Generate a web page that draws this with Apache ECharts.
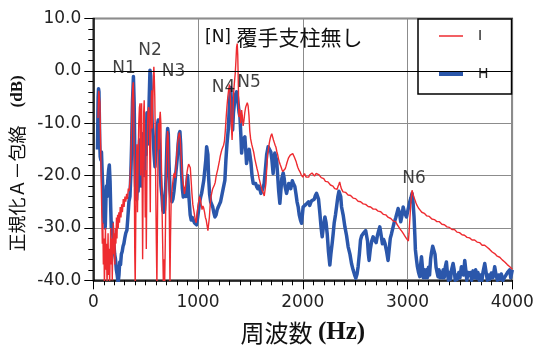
<!DOCTYPE html>
<html>
<head>
<meta charset="utf-8">
<script src="https://cdn.jsdelivr.net/npm/echarts@6/dist/echarts.min.js"></script>
<style>html,body{margin:0;padding:0;background:#fff;}#c{width:536px;height:347px;}</style>
</head>
<body>
<div id="c"></div>
<script>
// ---- Series I (red) ----
const freqI = [45,52,58,63,68,74,80,86,91,96,101,106,111,116,121,126,131,136,141,146,151,156,161,166,171,176,181,186,191,196,201,206,211,216,221,226,232,238,244,250,257,264,271,278,286,294,302,310,318,326,334,342,350,357,364,371,377,382,386,391,396,400,405,410,416,422,428,434,440,446,451,456,461,466,471,476,481,486,491,496,501,506,511,516,522,528,534,539,544,549,554,558,563,568,573,578,582,587,592,597,602,607,612,617,622,628,634,639,645,651,657,663,669,675,681,687,692,697,703,709,715,721,727,732,737,743,750,758,766,774,782,790,798,806,814,822,830,838,846,854,862,870,878,886,894,902,910,918,926,934,942,950,958,966,974,982,990,998,1006,1014,1022,1030,1038,1046,1054,1062,1070,1078,1086,1094,1100,1108,1116,1124,1132,1140,1148,1156,1164,1172,1180,1188,1196,1204,1212,1220,1228,1236,1244,1252,1260,1268,1276,1284,1292,1300,1305,1311,1318,1325,1332,1340,1348,1355,1362,1368,1374,1379,1384,1390,1396,1402,1408,1416,1422,1430,1438,1446,1454,1462,1470,1478,1486,1494,1502,1512,1522,1532,1542,1552,1562,1572,1582,1592,1602,1612,1622,1632,1640,1648,1656,1664,1672,1680,1688,1696,1704,1712,1720,1728,1736,1744,1752,1760,1768,1776,1784,1792,1800,1808,1816,1824,1832,1840,1848,1856,1864,1872,1880,1888,1896,1904,1912,1920,1928,1936,1944,1952,1960,1968,1976,1984,1992,2000,2008,2016,2024,2032,2040,2048,2056,2064,2072,2080,2088,2096,2104,2112,2120,2128,2136,2144,2152,2160,2168,2176,2184,2192,2200,2208,2216,2224,2232,2240,2248,2256,2264,2272,2280,2288,2296,2304,2312,2320,2328,2336,2344,2352,2360,2368,2376,2384,2392,2400,2408,2416,2424,2432,2440,2448,2456,2464,2472,2480,2488,2496,2504,2512,2520,2528,2536,2544,2552,2560,2568,2576,2584,2592,2600,2608,2616,2624,2632,2640,2648,2656,2664,2672,2680,2688,2696,2704,2712,2720,2728,2736,2744,2752,2760,2768,2776,2784,2792,2800,2808,2816,2824,2832,2840,2848,2856,2864,2872,2880,2888,2896,2904,2912,2920,2928,2936,2944,2952,2960,2968,2976,2984,2992,3000,3008,3014,3020,3026,3032,3038,3043,3048,3054,3060,3066,3072,3080,3088,3096,3104,3112,3120,3128,3136,3144,3152,3160,3168,3176,3184,3192,3200,3208,3216,3224,3232,3240,3248,3256,3264,3272,3280,3288,3296,3304,3312,3320,3328,3336,3344,3352,3360,3368,3376,3384,3392,3400,3408,3416,3424,3432,3440,3448,3456,3464,3472,3480,3488,3496,3504,3512,3520,3528,3536,3544,3552,3560,3568,3576,3584,3592,3600,3608,3616,3624,3632,3640,3648,3656,3664,3672,3680,3688,3696,3704,3712,3720,3728,3736,3744,3752,3760,3768,3776,3784,3792,3800,3808,3816,3824,3832,3840,3848,3856,3864,3872,3880,3888,3896,3904,3912,3920,3928,3936,3944,3952,3960,3968,3976,3984,3992,4000];
const levelI = [-9,-3.8,-3.9,-6,-12,-19,-26,-33,-29,-37,-32,-41,-35,-30,-38,-33,-41,-36,-31,-39,-34,-41,-35,-30,-37,-32,-40,-34,-29,-35,-31,-37,-30,-33,-28,-32,-27.5,-30,-27,-29,-26,-28,-25.5,-27,-24.5,-26,-24,-25,-23.5,-24.5,-22.5,-23,-21,-18,-12,-6,-3,-2.2,-6,-18,-35,-41,-30,-19,-14,-27,-17,-10,-7,-6.2,-20,-12,-6.2,-20,-36,-20,-8,-5.6,-14,-28,-19,-34,-22,-12,-8,-6.9,-8,-16,-27,-12,-5,-3.7,-11,-6,-2,0.8,-1,-5,-13,-24,-33,-41,-30,-18,-10,-15,-9,-7.8,-10,-19,-27,-34,-41,-36,-41,-33,-25,-19,-14,-11.5,-12.5,-18,-30,-41,-32,-25,-23,-21.5,-20,-19.5,-20.5,-18,-15.5,-13.5,-12.5,-11.8,-13,-16,-19,-21,-22,-23.5,-22.5,-21,-19.5,-18.5,-17.8,-17.6,-18.5,-21,-23.5,-25.5,-26.5,-27.5,-28.5,-29,-27.5,-26,-25,-24,-24.5,-25.5,-26.5,-25.8,-26.2,-27,-28,-28.5,-29.5,-30.5,-30.7,-28,-25.5,-24,-23.2,-22.5,-22.2,-21.8,-21.3,-20.2,-19.5,-18.8,-18,-17.2,-16.3,-15.6,-15,-14.6,-14.2,-13.4,-11.5,-9,-6.8,-5,-3.6,-2.6,-2.4,-6,-10.5,-13.2,-9,-4,-2,-0.5,2,4.5,5.2,3,-2,-8.8,-7.3,-8.5,-10,-7.5,-8.5,-10.5,-9.5,-8,-7,-6.5,-6.1,-6.7,-8.5,-11.5,-13,-14,-14.8,-15.6,-16.8,-17.7,-18.6,-19.4,-20.5,-21.3,-22.1,-22.8,-23.3,-23.9,-23.6,-21.5,-18.5,-16,-15,-13.8,-13,-12.4,-12,-12.6,-13.2,-13.7,-14.2,-14.6,-15.4,-16,-16.8,-17.4,-17.9,-18.3,-18.8,-19.2,-19.5,-19.2,-18.7,-18.2,-17.6,-17.1,-16.6,-16.3,-16.1,-16.4,-16.2,-15.8,-16,-16.5,-16.7,-17.3,-17.9,-18.4,-18.8,-19,-19.4,-19.8,-20.1,-20.3,-20,-19.6,-19.9,-20.3,-20.1,-20.6,-20.3,-19.9,-20.2,-19.7,-19.5,-19.2,-19.6,-20.1,-19.9,-19.6,-19.3,-19.5,-19.8,-19.5,-20.1,-20.4,-20.3,-20.7,-20.6,-20.9,-21.1,-20.9,-21.3,-21.2,-21.5,-21.4,-21.8,-21.7,-22.1,-22,-22.3,-22.5,-22.7,-22.5,-22.6,-22.1,-21.7,-21.2,-21.9,-22.5,-22.8,-23.1,-23,-23.3,-23.2,-23.5,-23.4,-23.7,-23.6,-23.9,-23.8,-24.1,-24,-24.3,-24.2,-24.5,-24.4,-24.7,-24.6,-24.9,-24.8,-25.1,-25,-25.2,-25.1,-25.4,-25.3,-25.6,-25.5,-25.7,-25.6,-25.9,-25.8,-26.1,-26,-26.2,-26.1,-26.4,-26.3,-26.5,-26.4,-26.7,-26.6,-26.8,-26.7,-27,-26.9,-27.2,-27.1,-27.4,-27.3,-27.6,-27.5,-27.8,-27.7,-28,-28,-28.3,-28.2,-28.5,-28.4,-28.7,-28.6,-28.9,-28.8,-29.2,-29.3,-29.7,-29.8,-30.2,-30.3,-30.6,-30.8,-31.1,-31.3,-31.6,-31.8,-32.1,-32.2,-32.5,-31,-29,-27,-25.2,-23.6,-22.8,-23.2,-23.7,-24,-24.4,-24.7,-25.2,-25.6,-25.8,-26.2,-26.3,-26.6,-26.7,-27,-27,-27.3,-27.2,-27.5,-27.5,-27.7,-27.6,-27.9,-27.8,-28.1,-28,-28.3,-28.2,-28.5,-28.4,-28.6,-28.5,-28.8,-28.7,-28.9,-28.8,-29.1,-29,-29.3,-29.2,-29.4,-29.4,-29.6,-29.5,-29.8,-29.7,-30,-29.9,-30.1,-30,-30.3,-30.2,-30.4,-30.3,-30.6,-30.5,-30.8,-30.7,-31,-30.9,-31.1,-31,-31.3,-31.2,-31.4,-31.4,-31.6,-31.5,-31.8,-31.7,-31.9,-31.9,-32.1,-32,-32.3,-32.2,-32.4,-32.3,-32.6,-32.5,-32.7,-32.7,-32.9,-32.8,-33.1,-33,-33.3,-33.2,-33.4,-33.3,-33.6,-33.5,-33.7,-33.7,-34,-34.1,-34.3,-34.3,-34.6,-34.6,-34.9,-34.9,-35.2,-35.2,-35.4,-35.4,-35.6,-35.6,-35.8,-35.9,-36.1,-36.2,-36.4,-36.5,-36.7,-36.8,-37,-37.1,-37.3,-37.4,-37.6,-37.7,-37.9];

// ---- Series H (blue) ----
const freqH = [40,46,50,54,58,62,66,72,78,84,90,96,102,108,114,120,126,132,138,146,153,160,166,172,180,188,196,204,212,220,228,237,245,252,260,268,276,284,292,300,310,321,330,340,350,358,366,374,383,390,396,404,414,420,428,436,442,448,456,462,470,476,484,490,498,504,512,518,526,534,541,548,555,562,570,580,589,598,606,614,620,628,636,646,656,664,672,680,688,696,704,710,716,722,732,740,750,760,770,780,790,800,810,820,827,834,842,850,859,868,876,885,893,900,908,916,925,935,945,955,965,976,986,996,1006,1016,1026,1034,1044,1054,1064,1074,1082,1088,1094,1100,1110,1120,1130,1140,1150,1161,1172,1183,1193,1204,1215,1225,1240,1256,1266,1276,1288,1296,1304,1311,1318,1324,1330,1338,1348,1358,1368,1376,1384,1392,1400,1408,1416,1424,1432,1440,1447,1455,1463,1472,1480,1488,1495,1505,1515,1527,1540,1550,1559,1570,1580,1590,1600,1606,1618,1631,1642,1655,1669,1680,1685,1695,1705,1717,1725,1733,1742,1750,1760,1770,1781,1790,1800,1813,1822,1830,1845,1855,1866,1877,1885,1893,1900,1910,1924,1935,1945,1956,1966,1978,1988,1996,2003,2012,2020,2030,2036,2045,2055,2066,2075,2085,2099,2110,2120,2131,2140,2150,2163,2175,2185,2195,2211,2222,2233,2245,2258,2268,2280,2290,2300,2312,2322,2335,2345,2354,2362,2370,2385,2402,2418,2433,2450,2465,2480,2495,2506,2518,2528,2540,2551,2562,2576,2590,2600,2608,2618,2626,2633,2645,2658,2671,2685,2700,2712,2725,2735,2745,2760,2772,2785,2800,2814,2825,2835,2847,2860,2872,2888,2910,2922,2935,2948,2958,2970,2990,3005,3021,3033,3043,3052,3062,3070,3075,3085,3094,3105,3117,3125,3133,3142,3150,3160,3170,3180,3190,3200,3210,3220,3228,3240,3253,3262,3272,3282,3291,3300,3310,3320,3330,3340,3350,3360,3371,3380,3390,3400,3410,3420,3435,3445,3455,3465,3475,3490,3500,3514,3525,3535,3546,3556,3566,3578,3590,3600,3612,3625,3640,3650,3660,3672,3685,3698,3710,3720,3737,3750,3762,3775,3785,3800,3815,3832,3845,3858,3870,3882,3895,3910,3925,3940,3955,3975,3985,3995,4000];
const levelH = [-15,-5,-3.4,-4,-9,-14,-16.4,-17,-15.5,-19,-22,-26,-29,-27,-30,-25,-22,-24,-21,-19,-18,-21,-26,-30,-29,-32,-33,-35,-36,-38,-39,-40.5,-39,-36.5,-37,-35,-34.5,-33.5,-33,-32,-31,-30.4,-28,-25,-24,-20,-14,-6,-1.1,-6,-15,-22,-24.6,-22,-23,-16,-13.2,-18,-22,-20,-12,-18,-13,-20,-10,-16,-8,-14,-12,-5,0.1,-1,-5,-10,-12,-16,-18.3,-15,-12,-10,-9.4,-13,-18,-22,-24,-26.6,-27,-26.6,-24,-19,-13,-11,-12,-17,-22.8,-24,-25,-24.5,-23,-21,-19,-17,-14,-12,-11.6,-14,-19,-22.5,-24.1,-23,-22.5,-24,-22,-20,-22.5,-25,-27.5,-28.5,-28,-28.5,-29,-28.8,-29.4,-28,-26.5,-25,-24,-23.4,-23.5,-21,-19,-17,-14.5,-14.2,-16,-20,-23.5,-25,-25.3,-26,-27,-27.9,-27.5,-26.5,-26,-25.5,-25,-24.7,-22.5,-20.9,-17,-14,-11.3,-8,-5,-3.2,-5.5,-9,-11.3,-8,-6,-4.5,-4,-5,-6.5,-8,-8.8,-12,-15.7,-14,-13,-12.8,-12.6,-15,-17.7,-16.5,-15.5,-15,-15.1,-17.5,-20,-21.5,-21.8,-21.5,-22.1,-22.5,-22,-22.6,-23.4,-23.4,-22.5,-21.5,-19,-16,-14.5,-14.8,-14.5,-15.5,-17,-19.6,-17,-15.7,-16.5,-17,-20,-23,-25.3,-23,-20.5,-19.5,-20.5,-22,-23.4,-22.5,-21.5,-21.5,-22.5,-22.5,-21,-21.5,-22.1,-23.5,-25,-26,-27.5,-28.5,-29.1,-27.5,-26,-25.8,-26.3,-25.5,-25.3,-25.8,-25,-25.7,-25.2,-24.8,-25,-24.5,-23.8,-23.4,-23.2,-24.5,-27.2,-30,-31.7,-30,-27.9,-29,-31.1,-34.5,-37.1,-35,-33,-31.1,-29,-27.5,-26,-24,-23,-22.8,-24,-26,-27.5,-29.8,-31.5,-33.6,-35,-36.8,-38,-39,-39.6,-38.8,-37.4,-35,-32.3,-31.5,-31.1,-30.8,-30.5,-30.2,-32.5,-35,-36.2,-34,-32.5,-31.7,-32.3,-32.8,-31.5,-30.5,-29.8,-31,-33,-32.2,-33,-34.5,-36.2,-34,-32,-31.1,-30,-29,-28,-26.3,-27,-28.8,-27.5,-26,-27,-27.9,-26.5,-25,-24.2,-23.4,-25,-27.9,-31.5,-34.2,-36,-37.4,-38.5,-39.3,-37,-35.5,-37.5,-39.5,-38,-39.5,-38,-39.5,-37.5,-39,-36,-34.8,-33.5,-33.3,-35,-37.5,-38.5,-39.3,-38,-39.5,-38.5,-39.5,-38,-39.5,-37.5,-36.5,-38.5,-40,-38.5,-39.8,-38,-36.8,-38,-40,-39,-39.8,-38.5,-39.5,-37.4,-38,-39,-36.2,-38,-40,-38.5,-39,-38.5,-40,-38.2,-39.5,-38,-39.6,-38.5,-40,-39,-40,-38.5,-36.8,-38.5,-40,-39,-39.8,-38.6,-39.5,-37.4,-39,-40,-39,-39.8,-38.8,-40,-39.5,-39.8,-38.5,-38,-39.5,-38.5,-38];

// ---- Annotations ----
const noteNames = ['N1','N2','N3','N4','N5','N6'];
const noteFreq = [293, 541, 765, 1243, 1486, 3061];
const noteDb = [0.4, 3.8, -0.2, -3.1, -2.2, -20.5];

// ---- Axis ticks ----
const xTicks = {min: 0, max: 4000, step: 1000};
const yTicks = {min: -40, max: 10, step: 10};

const dataI = freqI.map((f, i) => [f, levelI[i]]);
const dataH = freqH.map((f, i) => [f, levelH[i]]);
const notes = noteNames.map((n, i) => ({name: n, value: [noteFreq[i], noteDb[i]]}));

const chart = echarts.init(document.getElementById('c'), null, {renderer: 'canvas'});
const sans = 'DejaVu Sans';
const cjk = '"Noto Sans CJK JP"';
chart.setOption({
  animation: false,
  backgroundColor: '#fff',
  grid: {left: 93.3, right: 23.7, top: 18.5, bottom: 66.7, show: true, borderColor: '#000', borderWidth: 1.5,
         backgroundColor: 'transparent', containLabel: false, outerBoundsMode: 'none'},
  title: {
    text: '{a|[N] }{b|覆手支柱無し}',
    left: 200, top: 22,
    textStyle: {fontWeight: 'normal', rich: {
      a: {fontSize: 17, fontFamily: sans, fontWeight: 'normal', color: '#111'},
      b: {fontSize: 21, fontFamily: cjk, fontWeight: 'normal', color: '#111'}
    }}
  },
  legend: {
    orient: 'vertical', left: 418, top: 19,
    selectedMode: false,
    data: [
      {name: 'I', icon: 'path://M0,0H24V1.5H0Z'},
      {name: 'H', icon: 'path://M0,0H24V4H0Z'}
    ],
    itemWidth: 24, itemHeight: 14, itemGap: 24,
    padding: [10, 23, 13, 21],
    backgroundColor: '#fff', borderColor: '#000', borderWidth: 1.5, borderRadius: 0,
    textStyle: {fontSize: 14, fontFamily: sans, color: '#222', padding: [0, 0, 0, 10]}
  },
  xAxis: {
    type: 'value', min: xTicks.min, max: xTicks.max, interval: xTicks.step,
    axisLine: {show: true, onZero: false, lineStyle: {color: '#000', width: 1.5}},
    axisTick: {show: true, length: 9, lineStyle: {color: '#000'}},
    minorTick: {show: true, splitNumber: 10, length: 5, lineStyle: {color: '#000'}},
    splitLine: {show: true, lineStyle: {color: '#8c8c8c', width: 1}},
    axisLabel: {fontSize: 17, color: '#222', fontFamily: sans, margin: 14, formatter: v => String(v)},
    name: '{c|周波数 }{d|(Hz)}', nameLocation: 'middle', nameGap: 40,
    nameTextStyle: {rich: {
      c: {fontSize: 24, fontFamily: cjk, color: '#111'},
      d: {fontSize: 25, fontFamily: 'Liberation Serif', fontWeight: 'bold', color: '#111'}
    }}
  },
  yAxis: {
    type: 'value', min: yTicks.min, max: yTicks.max, interval: yTicks.step,
    axisLine: {show: true, onZero: false, lineStyle: {color: '#000', width: 1.5}},
    axisTick: {show: true, length: 9, lineStyle: {color: '#000'}},
    minorTick: {show: true, splitNumber: 5, length: 5, lineStyle: {color: '#000'}},
    splitLine: {show: true, lineStyle: {color: '#8c8c8c', width: 1}},
    axisLabel: {fontSize: 17, color: '#222', fontFamily: sans, margin: 12, formatter: v => v.toFixed(1)},
    name: '{c|正規化Ａ－包絡　}{d|(dB)}', nameLocation: 'middle', nameGap: 65,
    nameTextStyle: {padding: [0, 28, 0, 0], rich: {
      c: {fontSize: 18, fontFamily: cjk, color: '#111'},
      d: {fontSize: 17, fontFamily: 'Liberation Serif', fontWeight: 'bold', color: '#111'}
    }}
  },
  series: [
    {
      name: 'H', type: 'line', data: dataH, symbol: 'none', z: 2,
      lineStyle: {color: '#2b57ab', width: 3.5, join: 'round'}, itemStyle: {color: '#2b57ab'},
      markLine: {silent: true, symbol: 'none', label: {show: false}, data: [{yAxis: 0}],
        lineStyle: {color: '#000', type: 'solid', width: 1.2}}
    },
    {
      name: 'I', type: 'line', data: dataI, symbol: 'none', z: 3,
      lineStyle: {color: '#ee2b30', width: 1.4}, itemStyle: {color: '#ee2b30'}
    },
    {
      name: 'notes', type: 'scatter', data: notes, symbolSize: 0, z: 5, silent: true,
      label: {show: true, position: 'inside', formatter: '{b}', fontSize: 17, fontFamily: sans, color: '#111'}
    }
  ]
});
</script>
</body>
</html>
